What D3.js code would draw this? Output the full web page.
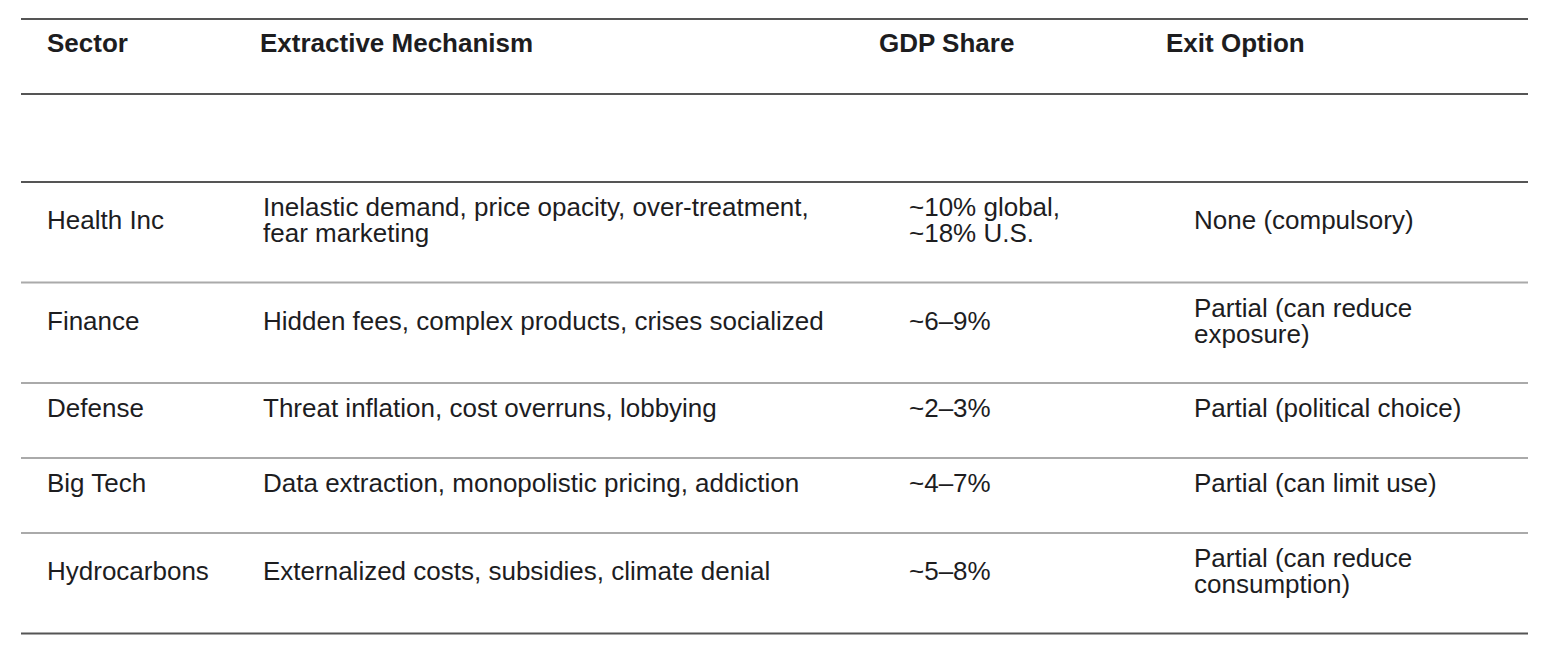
<!DOCTYPE html>
<html>
<head>
<meta charset="utf-8">
<script src="https://cdn.jsdelivr.net/npm/d3@7"></script>
<style>
  body { margin: 0; background: #fff; }
  svg { display: block; font-family: "Liberation Sans", Arial, Helvetica, sans-serif; }
</style>
</head>
<body>
<svg id="chart" width="1544" height="656"></svg>
<script>
// table content
const headers = ["Sector", "Extractive Mechanism", "GDP Share", "Exit Option"];
const sectors = ["Health Inc", "Finance", "Defense", "Big Tech", "Hydrocarbons"];
const mechanisms = [
    ["Inelastic demand, price opacity, over-treatment,", "fear marketing"],
    ["Hidden fees, complex products, crises socialized"],
    ["Threat inflation, cost overruns, lobbying"],
    ["Data extraction, monopolistic pricing, addiction"],
    ["Externalized costs, subsidies, climate denial"]
];
const gdpShares = [
    ["~10% global,", "~18% U.S."],
    ["~6–9%"],
    ["~2–3%"],
    ["~4–7%"],
    ["~5–8%"]
];
const exitOptions = [
    ["None (compulsory)"],
    ["Partial (can reduce", "exposure)"],
    ["Partial (political choice)"],
    ["Partial (can limit use)"],
    ["Partial (can reduce", "consumption)"]
];

const left = 21, right = 1528;
const headX = [47, 260, 879, 1166];
const bodyX = [47, 263, 909, 1194];
const fontSize = 26;
const lineH = 26, padTop = 12;
const rowLine = 25.5, rowPad = 49.5;
const headTop = 19, headBottom = 94, bodyTop = 182;

const svg = d3.select("#chart");

// build row geometry from the number of text lines in each row
const rows = sectors.map((s, i) => ({
    cells: [[s], mechanisms[i], gdpShares[i], exitOptions[i]]
}));
let y = bodyTop;
rows.forEach(r => {
    r.n = d3.max(r.cells, c => c.length);
    r.top = y;
    r.height = rowPad + rowLine * r.n;
    y += r.height;
});
const bodyBottom = y;

const col = d3.scaleOrdinal().domain(d3.range(4)).range(bodyX);
const headCol = d3.scaleOrdinal().domain(d3.range(4)).range(headX);

// header
svg.append("g").attr("class", "header")
    .selectAll("text")
    .data(headers)
    .join("text")
    .attr("x", (d, i) => headCol(i))
    .attr("y", headTop + 24)
    .attr("dy", "0.35em")
    .attr("font-size", fontSize)
    .attr("font-weight", "bold")
    .attr("fill", "#1d1d1f")
    .text(d => d);

// body cells
const rowG = svg.append("g").attr("class", "body")
    .selectAll("g")
    .data(rows)
    .join("g");

rowG.each(function(r) {
    const center = r.top + padTop + lineH * r.n / 2;
    d3.select(this).selectAll("text")
        .data(r.cells)
        .join("text")
        .attr("font-size", fontSize)
        .attr("fill", "#1d1d1f")
        .each(function(lines, ci) {
            d3.select(this).selectAll("tspan")
                .data(lines)
                .join("tspan")
                .attr("x", col(ci))
                .attr("y", (d, li) => center + (li - (lines.length - 1) / 2) * lineH)
                .attr("dy", "0.35em")
                .text(d => d);
        });
});

// rules
const darkRules = [headTop, headBottom, bodyTop, bodyBottom];
const lightRules = rows.slice(1).map(r => r.top);

svg.append("g").selectAll("line")
    .data(lightRules)
    .join("line")
    .attr("x1", left).attr("x2", right)
    .attr("y1", d => d).attr("y2", d => d)
    .attr("stroke", "#aaaaaa")
    .attr("stroke-width", 2);

svg.append("g").selectAll("line")
    .data(darkRules)
    .join("line")
    .attr("x1", left).attr("x2", right)
    .attr("y1", d => d).attr("y2", d => d)
    .attr("stroke", "#555555")
    .attr("stroke-width", 2);
</script>
</body>
</html>
